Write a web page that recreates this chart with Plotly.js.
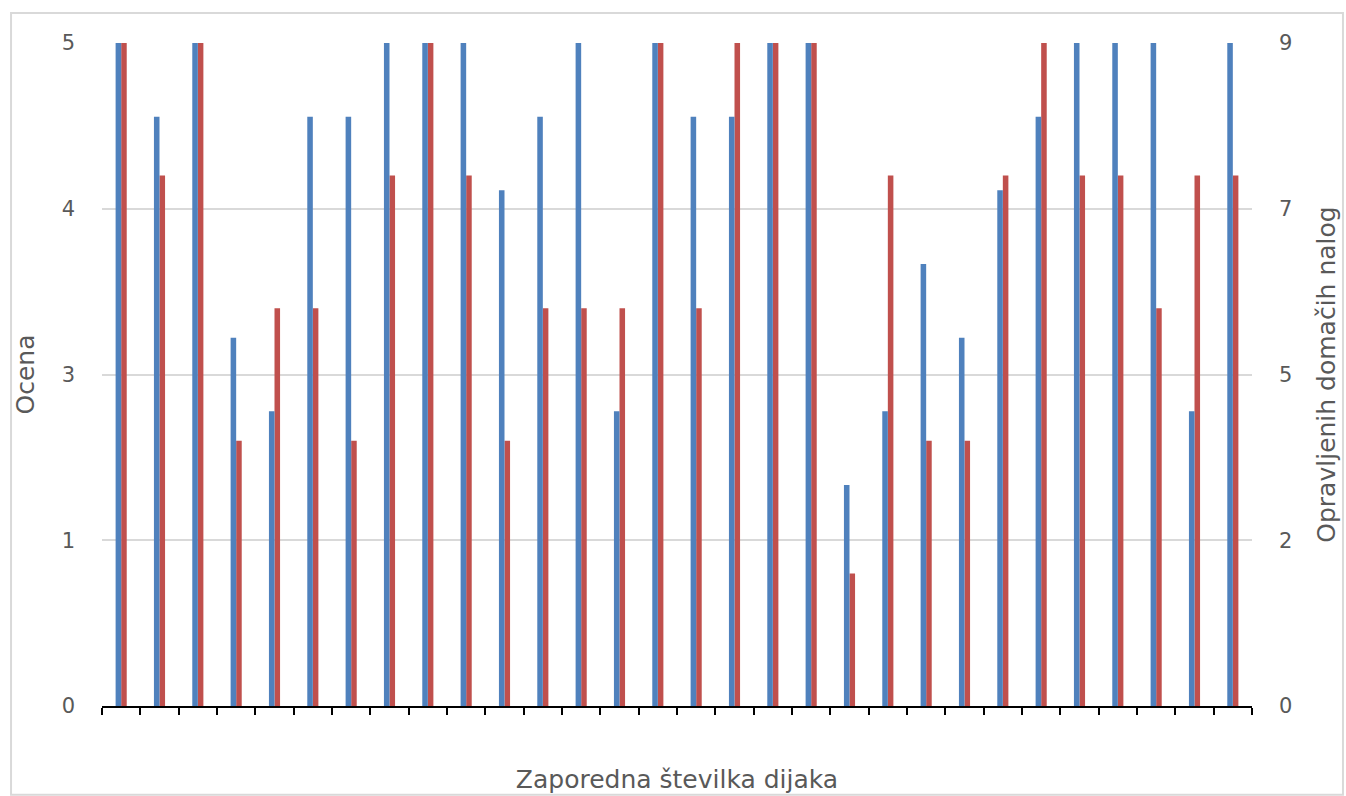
<!DOCTYPE html>
<html>
<head>
<meta charset="utf-8">
<script src="https://cdn.plot.ly/plotly-3.0.1.min.js"></script>
<style>
  html, body { margin: 0; padding: 0; background: #ffffff; }
  #chart { width: 1346px; height: 796px; }
</style>
</head>
<body>
<div id="chart"></div>
<script>
// Student number (Zaporedna številka dijaka)
const students = [1,2,3,4,5,6,7,8,9,10,11,12,13,14,15,16,17,18,19,20,21,22,23,24,25,26,27,28,29,30];
// Completed homework (Opravljenih domačih nalog) - right axis, blue
const homework = [9,8,9,5,4,8,8,9,9,9,7,8,9,4,9,8,8,9,9,3,4,6,5,7,8,9,9,9,4,9];
// Grade (Ocena) - left axis, red
const grade    = [5,4,5,2,3,3,2,4,5,4,2,3,3,3,5,3,5,5,5,1,4,2,2,4,5,4,4,3,4,4];

// Axis tick positions & displayed labels (Excel-style rounded labels)
const leftTickVals  = [0, 1.25, 2.5, 3.75, 5];
const leftTickText  = ['0', '1', '3', '4', '5'];
const rightTickVals = [0, 2.25, 4.5, 6.75, 9];
const rightTickText = ['0', '2', '5', '7', '9'];
const catBoundaries = [];
for (let i = 0; i <= students.length; i++) catBoundaries.push(i + 0.5);

const FONT = 'DejaVu Sans, Verdana, sans-serif';
const GRAY = '#595959';
const BW = 0.145;
const TITLE_SIZE = 25;

const traces = [
  {
    type: 'bar', name: 'Opravljenih domačih nalog',
    x: students, y: homework, yaxis: 'y2',
    width: BW, offset: -BW,
    marker: { color: '#4F81BD', line: { width: 0 } },
    hoverinfo: 'x+y'
  },
  {
    type: 'bar', name: 'Ocena',
    x: students, y: grade, yaxis: 'y',
    width: BW, offset: 0,
    marker: { color: '#C0504D', line: { width: 0 } },
    hoverinfo: 'x+y'
  }
];

const layout = {
  width: 1346, height: 796,
  margin: { l: 102, r: 94, t: 43, b: 90 },
  paper_bgcolor: '#ffffff', plot_bgcolor: '#ffffff',
  showlegend: false,
  barmode: 'overlay',
  font: { family: FONT, color: GRAY, size: 20 },
  xaxis: {
    range: [0.5, students.length + 0.5],
    tickmode: 'array', tickvals: catBoundaries, ticktext: catBoundaries.map(() => ''),
    ticks: 'outside', ticklen: 7, tickwidth: 2, tickcolor: '#000000',
    showline: true, linecolor: '#000000', linewidth: 2,
    showgrid: false, zeroline: false, fixedrange: true,
    title: { text: 'Zaporedna številka dijaka', font: { family: FONT, size: TITLE_SIZE, color: GRAY }, standoff: 52 }
  },
  yaxis: {
    range: [0, 5],
    tickmode: 'array', tickvals: leftTickVals, ticktext: leftTickText,
    ticks: '', showline: false, zeroline: false,
    showgrid: true, gridcolor: '#D9D9D9', gridwidth: 2,
    ticklabelstandoff: 26,
    tickfont: { family: FONT, size: 21, color: GRAY },
    title: { text: 'Ocena', font: { family: FONT, size: TITLE_SIZE, color: GRAY }, standoff: 19 },
    fixedrange: true
  },
  yaxis2: {
    range: [0, 9], overlaying: 'y', side: 'right',
    tickmode: 'array', tickvals: rightTickVals, ticktext: rightTickText,
    ticks: '', showline: false, zeroline: false, showgrid: false,
    ticklabelstandoff: 26,
    tickfont: { family: FONT, size: 21, color: GRAY },
    title: { text: 'Opravljenih domačih nalog', font: { family: FONT, size: TITLE_SIZE, color: GRAY }, standoff: 26 },
    fixedrange: true
  },
  shapes: [
    { type: 'rect', xref: 'paper', yref: 'paper',
      x0: -0.0791, x1: 1.0791, y0: -0.134, y1: 1.0452,
      line: { color: '#D9D9D9', width: 2 }, fillcolor: 'rgba(0,0,0,0)', layer: 'below' }
  ]
};

Plotly.newPlot('chart', traces, layout, { displayModeBar: false, staticPlot: true });
</script>
</body>
</html>
